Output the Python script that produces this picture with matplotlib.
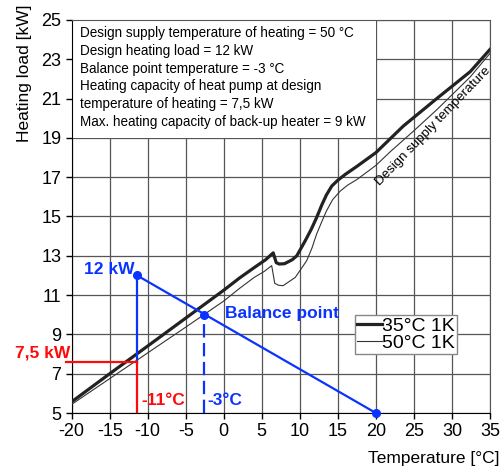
import matplotlib.pyplot as plt
from matplotlib.patches import Rectangle

plt.rcParams['font.family'] = ['Liberation Sans', 'DejaVu Sans']
plt.rcParams['axes.unicode_minus'] = False

# heating capacity curves
t_35 = [-20, -15, -10, -5, 0, 2, 4, 5.5, 6.5, 6.9, 7.3, 8.0, 9.0, 9.6, 10.7, 11.5, 12.2, 12.9, 13.5,
        14.2, 15.0, 16.0, 17.5, 20, 23.6, 28, 32.4, 35]
q_35 = [5.57, 7.0, 8.41, 9.83, 11.25, 11.85, 12.4, 12.8, 13.15, 12.65, 12.58, 12.6, 12.8, 13.0, 13.76,
        14.35, 14.94, 15.6, 16.1, 16.55, 16.85, 17.15, 17.55, 18.25, 19.6, 21.0, 22.37, 23.5]
t_50 = [-20, -15, -10, -5, 0, 2.1, 4, 5.3, 6.3, 6.7, 7.2, 7.8, 9.4, 10.9, 11.6, 12.2, 12.9, 13.5,
        14.3, 15.3, 16.3, 17.5, 20, 21.9, 24.9, 28, 32.4, 35]
q_50 = [5.44, 6.75, 8.06, 9.37, 10.7, 11.35, 11.9, 12.2, 12.5, 11.6, 11.5, 11.48, 11.9, 12.75, 13.4,
        14.1, 14.75, 15.28, 15.85, 16.29, 16.6, 16.88, 17.6, 18.3, 19.33, 20.43, 22.1, 23.3]

# design / balance point construction
t_design = -11.4
q_design = 12
q_hp_design = 7.6
t_balance = -2.6
q_balance = 10
t_zero_load = 20

info_lines = [
    "Design supply temperature of heating = 50 °C",
    "Design heating load = 12 kW",
    "Balance point temperature = -3 °C",
    "Heating capacity of heat pump at design",
    "temperature of heating = 7,5 kW",
    "Max. heating capacity of back-up heater = 9 kW",
]

blue = '#0a33ff'
red = '#ff0a0a'

fig = plt.figure(figsize=(5.03, 4.68), dpi=100)
ax = fig.add_axes([0.1425, 0.1175, 0.8316, 0.8398])

ax.set_xlim(-20, 35)
ax.set_ylim(5, 25)
ax.set_xticks(range(-20, 36, 5))
ax.set_yticks(range(5, 26, 2))
ax.tick_params(labelsize=13, direction='out', length=4, width=1)
ax.grid(True, color='#555555', linewidth=0.9)
ax.set_axisbelow(True)
for side in ['top', 'right']:
    ax.spines[side].set_color('#555555')

# white info box over the grid
ax.add_patch(Rectangle((-20, 19), 40, 6, facecolor='white', edgecolor='none', zorder=1))
for i, line in enumerate(info_lines):
    ax.text(-18.9, 24.34 - 0.906 * i, line, fontsize=9.75, va='center', ha='left', zorder=3)

ax.plot(t_35, q_35, color='#222222', lw=2.3, label='35°C 1K', zorder=3)
ax.plot(t_50, q_50, color='#333333', lw=0.8, label='50°C 1K', zorder=3)

ax.text(27.5, 19.6, "Design supply temperature", fontsize=9.6, rotation=46,
        rotation_mode='anchor', ha='center', va='center', zorder=4)

# blue construction
ax.plot([t_design, t_zero_load], [q_design, 5], color=blue, lw=1.6, zorder=4, clip_on=False)
ax.plot([t_design, t_design], [q_hp_design, q_design], color=blue, lw=1.6, zorder=4)
ax.plot([t_balance, t_balance], [5, q_balance], color=blue, lw=1.6, ls=(0, (6, 2.5)), zorder=4)
ax.plot([t_design, t_balance, t_zero_load], [q_design, q_balance, 5], 'o', color=blue,
        ms=5.5, zorder=5, clip_on=False)
# red construction
ax.plot([-20.8, t_design], [q_hp_design, q_hp_design], color=red, lw=1.6, zorder=4, clip_on=False)
ax.plot([t_design, t_design], [5, q_hp_design], color=red, lw=1.6, zorder=4)

ax.text(-11.8, 12.3, "12 kW", color=blue, fontsize=12.5, fontweight='bold', ha='right', va='center')
ax.text(0.2, 10.05, "Balance point", color=blue, fontsize=12.5, fontweight='bold', va='center')
ax.text(-10.8, 5.66, "-11°C", color=red, fontsize=12.5, fontweight='bold', va='center')
ax.text(-2.1, 5.66, "-3°C", color=blue, fontsize=12.5, fontweight='bold', va='center')
ax.text(-20.2, 8.06, "7,5 kW", color=red, fontsize=12.5, fontweight='bold', ha='right',
        va='center', clip_on=False)

leg = ax.legend(loc='lower left', bbox_to_anchor=(0.677, 0.15), fontsize=14, frameon=True,
                fancybox=False, edgecolor='#888888', framealpha=1, handlelength=1.3,
                handletextpad=0.0, labelspacing=0.0, borderpad=0.1, borderaxespad=0)
leg.get_frame().set_linewidth(1.0)

fig.text(500 / 503, 1 - 458 / 468, "Temperature [°C]", fontsize=12.5, ha='right', va='center')
fig.text(25 / 503, 1 - 5 / 468, "Heating load [kW]", fontsize=12.5, rotation=90, ha='center', va='top')

fig.savefig('out.png', dpi=100)
